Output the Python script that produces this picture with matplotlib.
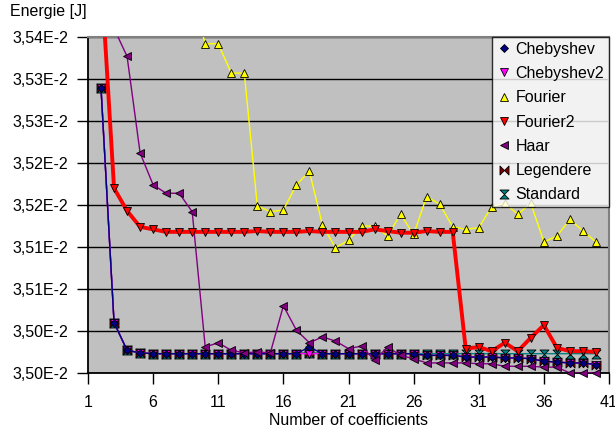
import numpy as np
import matplotlib
matplotlib.use('Agg')
import matplotlib.pyplot as plt
from matplotlib.path import Path
from matplotlib.lines import Line2D

# number of coefficients
x = np.arange(2, 41)

chebyshev = [0.035339, 0.035060, 0.035027, 0.035024, 0.035023, 0.035023, 0.035023, 0.035023,
             0.035023, 0.035023, 0.035023, 0.035023, 0.035023, 0.035023, 0.035023, 0.035023,
             0.035031, 0.035023, 0.035023, 0.035023, 0.035023, 0.035023, 0.035023, 0.035023,
             0.035023, 0.035021, 0.035021, 0.035021, 0.035019, 0.035019, 0.035019, 0.035018,
             0.035018, 0.035017, 0.035014, 0.035013, 0.035012, 0.035012, 0.035010]
chebyshev2 = [0.035339, 0.035060, 0.035027, 0.035024, 0.035023, 0.035023, 0.035023, 0.035023,
              0.035023, 0.035023, 0.035023, 0.035023, 0.035023, 0.035023, 0.035023, 0.035023,
              0.035023, 0.035023, 0.035023, 0.035023, 0.035023, 0.035023, 0.035023, 0.035023,
              0.035023, 0.035021, 0.035021, 0.035021, 0.035019, 0.035019, 0.035019, 0.035018,
              0.035018, 0.035017, 0.035014, 0.035013, 0.035012, 0.035012, 0.035010]
fourier = [0.03610, 0.03590, 0.03580, 0.03570, 0.03560, 0.03552, 0.03548, 0.035448,
           0.035392, 0.035392, 0.035357, 0.035357, 0.035199, 0.035192, 0.035194, 0.035224,
           0.035240, 0.035176, 0.035149, 0.035158, 0.035175, 0.035175, 0.035163, 0.035189,
           0.035165, 0.035210, 0.035201, 0.035174, 0.035171, 0.035173, 0.035198, 0.035202,
           0.035189, 0.035202, 0.035156, 0.035163, 0.035183, 0.035169, 0.035156]
fourier2 = [0.035477, 0.035220, 0.035193, 0.035174, 0.035171, 0.035168, 0.035168, 0.035168,
            0.035168, 0.035168, 0.035168, 0.035168, 0.035169, 0.035168, 0.035168, 0.035168,
            0.035169, 0.035168, 0.035168, 0.035168, 0.035168, 0.035171, 0.035169, 0.035167,
            0.035167, 0.035169, 0.035168, 0.035168, 0.035029, 0.035031, 0.035026, 0.035036,
            0.035026, 0.035042, 0.035057, 0.035030, 0.035026, 0.035026, 0.035025]
haar = [0.035600, 0.035410, 0.035377, 0.035262, 0.035224, 0.035214, 0.035214, 0.035192,
        0.035031, 0.035036, 0.035027, 0.035024, 0.035025, 0.035024, 0.035080, 0.035051,
        0.035036, 0.035043, 0.035038, 0.035029, 0.035032, 0.035015, 0.035031, 0.035021,
        0.035017, 0.035012, 0.035012, 0.035012, 0.035012, 0.035011, 0.035011, 0.035008,
        0.035008, 0.035008, 0.035007, 0.035007, 0.035000, 0.035000, 0.035000]
legendere = [0.035339, 0.035060, 0.035027, 0.035024, 0.035023, 0.035023, 0.035023, 0.035023,
             0.035023, 0.035023, 0.035023, 0.035023, 0.035023, 0.035023, 0.035023, 0.035023,
             0.035024, 0.035023, 0.035023, 0.035023, 0.035023, 0.035023, 0.035023, 0.035023,
             0.035023, 0.035021, 0.035021, 0.035021, 0.035019, 0.035019, 0.035019, 0.035018,
             0.035018, 0.035017, 0.035014, 0.035013, 0.035012, 0.035012, 0.035010]
standard = [0.035339, 0.035060, 0.035027, 0.035024, 0.035023, 0.035023, 0.035023, 0.035023,
            0.035023, 0.035023, 0.035023, 0.035023, 0.035023, 0.035023, 0.035023, 0.035023,
            0.035024, 0.035023, 0.035023, 0.035023, 0.035023, 0.035023, 0.035023, 0.035023,
            0.035023, 0.035023, 0.035023, 0.035023, 0.035023, 0.035023, 0.035023, 0.035023,
            0.035023, 0.035023, 0.035023, 0.035023, 0.035023, 0.035023, 0.035023]

xticks = [1, 6, 11, 16, 21, 26, 31, 36, 41]
yticks = [0.03500, 0.03505, 0.03510, 0.03515, 0.03520, 0.03525, 0.03530, 0.03535, 0.03540]
ytick_labels = ['3,50E-2', '3,50E-2', '3,51E-2', '3,51E-2', '3,52E-2',
                '3,52E-2', '3,53E-2', '3,53E-2', '3,54E-2']

plt.rcParams['font.family'] = ['Liberation Sans', 'DejaVu Sans']
plt.rcParams['font.size'] = 11.5

# excel style markers
bowtie = Path([(-1, 1), (1, -1), (1, 1), (-1, -1), (-1, 1)],
              [Path.MOVETO, Path.LINETO, Path.LINETO, Path.LINETO, Path.CLOSEPOLY])
hourglass = Path([(-1, 1), (1, 1), (-1, -1), (1, -1), (-1, 1)],
                 [Path.MOVETO, Path.LINETO, Path.LINETO, Path.LINETO, Path.CLOSEPOLY])

series = [
    # name, data, line colour, marker colour, marker, size, line width, zorder
    ('Chebyshev', chebyshev, '#000080', '#000080', 'D', 4.5, 1.0, 6),
    ('Chebyshev2', chebyshev2, '#FF00FF', '#FF00FF', 'v', 6, 1.0, 4),
    ('Fourier', fourier, '#FFFF00', '#FFFF00', '^', 6, 1.0, 8),
    ('Fourier2', fourier2, '#FF0000', '#FF0000', 'v', 6, 2.8, 9),
    ('Haar', haar, '#800080', '#800080', '<', 6, 1.0, 7),
    ('Legendere', legendere, '#800000', '#800000', bowtie, 6.5, 1.0, 3),
    ('Standard', standard, '#008080', '#008080', hourglass, 6.5, 1.0, 3.5),
]

ylo, yhi = 0.03500, 0.03540

fig = plt.figure(figsize=(6.15, 4.38), dpi=100)
ax = fig.add_axes([88 / 615, 1 - 373 / 438, (609 - 88) / 615, (373 - 37) / 438])
ax.set_facecolor('#C0C0C0')

handles = []
for name, vals, lc, mc, mk, ms, lw, z in series:
    vals = np.array(vals)
    ax.plot(x, vals, color=lc, lw=lw, zorder=z)
    inside = (vals >= ylo - 1e-9) & (vals <= yhi)
    ax.plot(x[inside], vals[inside], ls='none', marker=mk, ms=ms, mfc=mc,
            mec='black', mew=0.6, zorder=z + 0.5, clip_on=False)
    handles.append(Line2D([], [], ls='none', marker=mk, ms=ms, mfc=mc,
                          mec='black', mew=0.6, label=name))

ax.set_xlim(1, 41)
ax.set_ylim(ylo, yhi)
ax.set_xticks(xticks)
ax.set_yticks(yticks)
ax.set_yticklabels(ytick_labels)
ax.yaxis.grid(True, color='black', lw=1)
ax.set_axisbelow(True)
ax.tick_params(axis='y', direction='out', length=8, width=1, pad=6)
ax.tick_params(axis='x', direction='out', length=8, width=1, pad=8)

for s in ['left', 'bottom']:
    ax.spines[s].set_color('black')
    ax.spines[s].set_linewidth(1.3)
for s in ['top', 'right']:
    ax.spines[s].set_color('#808080')
    ax.spines[s].set_linewidth(1.5)

ax.set_xlabel('Number of coefficients', labelpad=2)
fig.text(10 / 615, 1 - 4 / 438, 'Energie [J]', ha='left', va='top')

leg = ax.legend(handles=handles, loc='upper right', bbox_to_anchor=(1, 1),
                borderaxespad=0, frameon=True, fancybox=False, edgecolor='black',
                handlelength=0.8, handletextpad=0.35, labelspacing=0.58,
                borderpad=0.3, fontsize=11.5)
leg.get_frame().set_linewidth(1.0)
leg.set_zorder(20)

fig.savefig('out.png', dpi=100)
